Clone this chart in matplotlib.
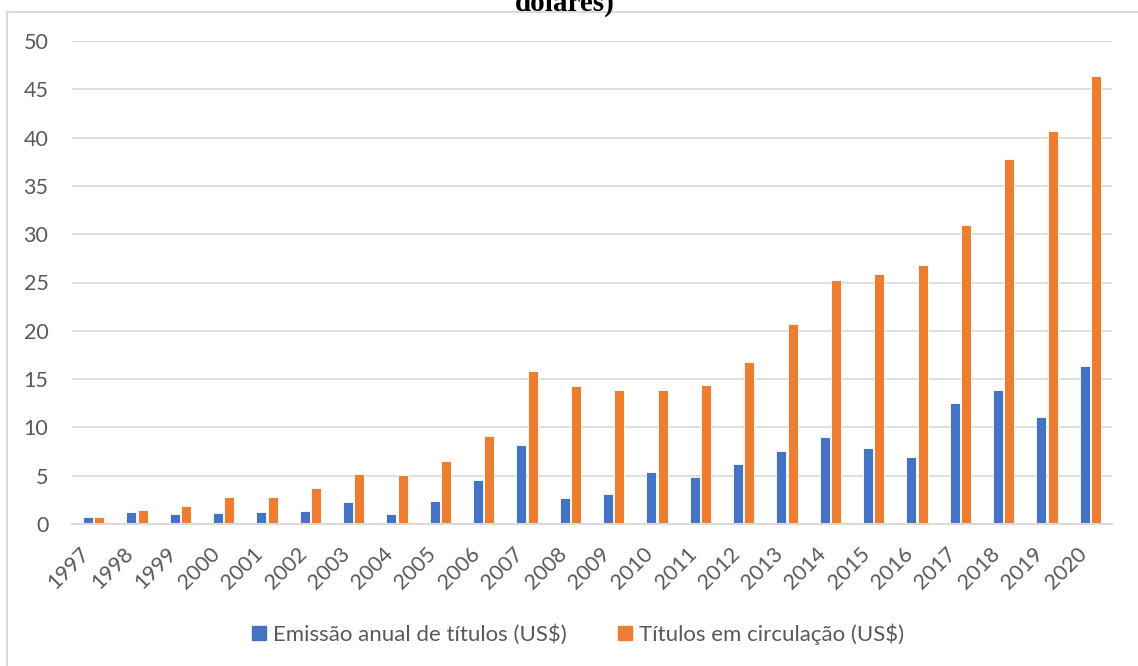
import matplotlib
matplotlib.use("Agg")
import matplotlib.pyplot as plt
from matplotlib.patches import Patch, Rectangle
import numpy as np

# Green bonds: annual issuance and outstanding stock (billion US$)
years = [str(y) for y in range(1997, 2021)]
emissao = [0.7, 1.2, 1.0, 1.1, 1.2, 1.35, 2.25, 1.07, 2.4, 4.6, 8.2, 2.7,
           3.1, 5.4, 4.9, 6.25, 7.6, 9.0, 7.85, 6.95, 12.5, 13.85, 11.05, 16.35]
circulacao = [0.7, 1.5, 1.85, 2.75, 2.8, 3.7, 5.2, 5.1, 6.55, 9.1, 15.8, 14.3,
              13.85, 13.85, 14.4, 16.8, 20.7, 25.3, 25.9, 26.8, 30.95, 37.8, 40.7, 46.35]
yticks = list(range(0, 51, 5))

label_emissao = "Emissão anual de títulos (US$)"
label_circulacao = "Títulos em circulação (US$)"

blue = "#4472C4"
orange = "#ED7D31"
grey_text = "#595959"
grid_col = "#D9D9D9"

plt.rcParams["font.family"] = ["Lato", "DejaVu Sans"]

fig = plt.figure(figsize=(11.38, 6.66), dpi=100)
ax = fig.add_axes([72 / 1138, 1 - 524 / 666, (1112 - 72) / 1138, (524 - 41) / 666])

x = np.arange(len(years))
w = 0.23
ax.bar(x - 0.13, emissao, width=w, color=blue, edgecolor="white", linewidth=0.6, zorder=3)
ax.bar(x + 0.13, circulacao, width=w, color=orange, edgecolor="white", linewidth=0.6, zorder=3)

ax.set_xlim(-0.5, len(years) - 0.5)
ax.set_ylim(0, 50)
ax.set_yticks(yticks)
ax.set_xticks(x)
ax.set_xticklabels(years, rotation=45, ha="right")
ax.tick_params(axis="both", length=0, labelsize=15.5, colors=grey_text)
ax.tick_params(axis="y", pad=17)
ax.tick_params(axis="x", pad=14)

ax.grid(axis="y", color=grid_col, linewidth=1.2, zorder=0)
for s in ["top", "right", "left"]:
    ax.spines[s].set_visible(False)
ax.spines["bottom"].set_color(grid_col)
ax.spines["bottom"].set_linewidth(1.5)
ax.spines["bottom"].set_zorder(4)

# chart frame
fig.patches.append(Rectangle((7 / 1138, -0.1), 1.2, 1 - 12 / 666 + 0.1,
                             transform=fig.transFigure, fill=False,
                             edgecolor=grid_col, linewidth=1.5))

fig.text(565 / 1138, 1 - 10.5 / 666, "dólares)", ha="center", va="baseline",
         family="Liberation Serif", fontweight="bold", fontsize=21)

handles = [Patch(color=blue, label=label_emissao), Patch(color=orange, label=label_circulacao)]
leg = fig.legend(handles=handles, loc="center", bbox_to_anchor=(578 / 1138, 1 - 634 / 666),
                 ncol=2, frameon=False, fontsize=16, handlelength=0.65, handleheight=0.65,
                 handletextpad=0.3, columnspacing=2.3)
for t in leg.get_texts():
    t.set_color(grey_text)

fig.savefig("out.png", dpi=100)
